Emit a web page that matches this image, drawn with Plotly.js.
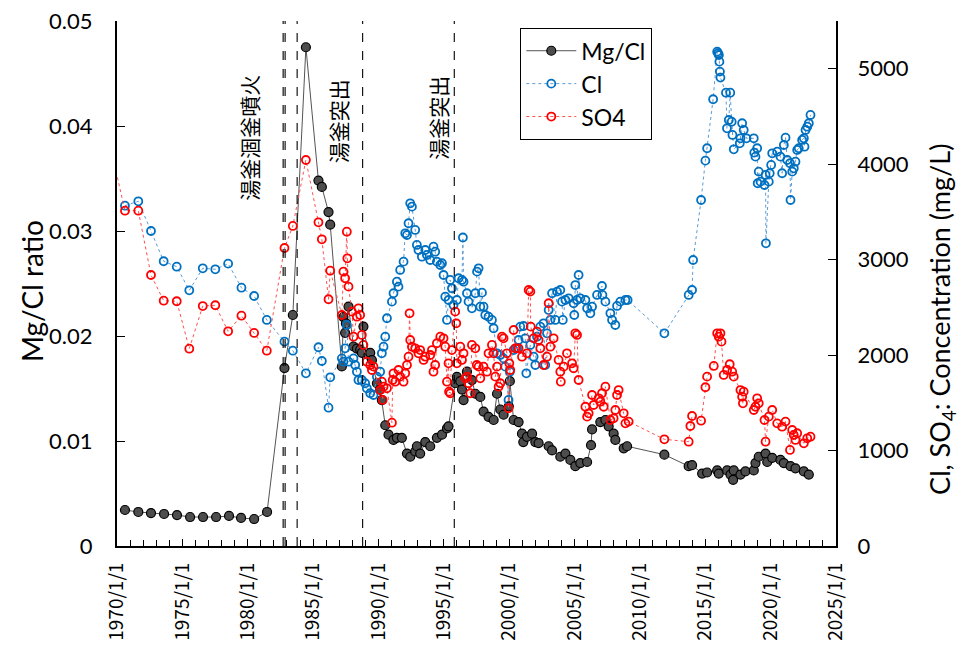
<!DOCTYPE html>
<html>
<head>
<meta charset="utf-8">
<script src="https://cdn.plot.ly/plotly-3.0.1.min.js"></script>
<style>html,body{margin:0;padding:0;background:#fff;}#chart{width:961px;height:647px;}</style>
</head>
<body>
<div id="chart"></div>
<script>
// ---- Data (decimal year, value) ----
const mgclYear = [1970.61,1971.63,1972.60,1973.60,1974.59,1975.59,1976.58,1977.58,1978.57,1979.49,1980.49,1981.48,
1982.81,1983.45,1984.45,1985.41,1985.67,1986.18,1986.31,1987.20,1987.32,1987.45,1987.51,1987.71,1988.09,1988.35,1988.60,
1988.73,1988.85,1989.24,1989.37,1989.50,1989.88,1990.13,1990.26,1990.52,1990.77,1991.15,1991.41,1991.79,1992.18,1992.43,
1992.81,1992.94,1993.19,1993.58,1993.96,1994.47,1994.86,1995.24,1995.36,1995.87,1996.00,1996.26,1996.39,1996.51,1996.77,
1997.15,1997.41,1997.79,1998.04,1998.42,1998.81,1999.07,1999.32,1999.57,1999.97,2000.05,2000.34,2000.72,2000.98,2001.08,
2001.36,2001.75,2002.00,2002.25,2003.02,2003.28,2003.91,2004.30,2004.68,2005.06,2005.44,2005.96,2006.26,2006.34,2006.97,
2007.36,2007.61,2007.99,2008.12,2008.76,2009.02,2011.87,2013.73,2013.99,2014.76,2015.14,2015.91,2016.03,2016.67,2016.93,
2017.13,2017.18,2017.69,2018.07,2018.71,2018.84,2019.09,2019.61,2019.74,2020.12,2020.75,2021.01,2021.52,2021.90,2022.54,2022.92];
const mgclValue = [0.00343,0.00324,0.00314,0.00305,0.00295,0.00276,0.00276,0.00276,0.00286,0.00267,0.00257,0.00324,
0.01695,0.0220,0.0475,0.0348,0.0342,0.0318,0.0306,0.0171,0.0218,0.0203,0.0212,0.0228,0.0190,0.0188,0.0187,
0.0184,0.0209,0.0182,0.0184,0.0177,0.0155,0.0149,0.0139,0.0115,0.0106,0.0101,0.0103,0.0103,0.0088,0.0085,
0.0090,0.0095,0.0088,0.0099,0.0095,0.0103,0.0106,0.0112,0.0114,0.0155,0.0161,0.0157,0.0149,0.0139,0.0166,
0.0158,0.0145,0.0142,0.0128,0.0123,0.0120,0.0145,0.0130,0.0125,0.0133,0.0157,0.0120,0.0118,0.0107,0.0099,
0.0104,0.0107,0.0099,0.0098,0.0095,0.0091,0.0085,0.0088,0.0082,0.0076,0.0079,0.0080,0.0096,0.0111,0.0118,
0.0120,0.0114,0.0107,0.0101,0.0093,0.0095,0.0087,0.0076,0.0077,0.0069,0.0070,0.0072,0.0069,0.0072,0.0068,
0.0063,0.0072,0.0068,0.0071,0.0072,0.0079,0.0085,0.0088,0.0080,0.0084,0.0082,0.0079,0.0076,0.0074,0.0071,0.0068];

const clYear = [1970.61,1971.63,1972.60,1973.57,1974.57,1975.53,1976.56,1977.52,1978.50,1979.52,1980.49,1981.46,
1982.81,1983.45,1984.45,1985.41,1985.67,1986.18,1986.31,1987.20,1987.32,1987.45,1987.58,1987.71,1988.09,1988.22,1988.35,
1988.47,1988.73,1988.98,1989.11,1989.37,1989.62,1989.88,1990.13,1990.26,1990.39,1990.52,1990.65,1991.03,1991.15,1991.41,
1991.53,1991.66,1991.92,1992.05,1992.18,1992.30,1992.43,1992.56,1992.81,1992.94,1993.06,1993.32,1993.58,1993.71,1993.96,
1994.21,1994.34,1994.47,1994.73,1994.86,1994.98,1995.11,1995.24,1995.36,1995.49,1995.62,1995.74,1996.00,1996.13,1996.39,
1996.46,1996.51,1996.77,1996.89,1997.15,1997.41,1997.54,1997.66,1997.79,1997.92,1998.04,1998.17,1998.42,1998.68,1998.81,
1999.07,1999.32,1999.57,1999.70,1999.95,2000.05,2000.34,2000.60,2000.72,2000.85,2001.10,2001.23,2001.31,2001.62,2001.87,
2002.00,2002.13,2002.38,2002.63,2002.76,2002.89,2003.02,2003.15,2003.28,2003.53,2003.66,2003.91,2004.04,2004.10,2004.30,
2004.55,2004.93,2004.98,2005.06,2005.19,2005.31,2005.44,2005.83,2005.96,2006.21,2006.34,2006.72,2007.10,2007.13,2007.36,
2007.74,2007.87,2008.12,2008.25,2008.50,2008.89,2009.06,2011.87,2013.73,2013.99,2014.07,2014.68,2015.01,2015.14,2015.60,
2015.91,2015.98,2016.04,2016.08,2016.12,2016.16,2016.58,2016.66,2016.80,2016.91,2017.02,2017.08,2017.18,2017.64,2017.69,
2017.82,2017.94,2018.15,2018.71,2018.75,2018.84,2018.97,2019.01,2019.09,2019.22,2019.53,2019.61,2019.64,2019.86,2019.93,
2020.04,2020.12,2020.50,2020.75,2020.88,2021.01,2021.14,2021.27,2021.48,2021.52,2021.65,2021.77,2021.90,2022.03,2022.15,
2022.41,2022.54,2022.59,2022.67,2022.80,2022.92,2023.05];
const clValue = [3565,3611,3300,2983,2926,2679,2909,2899,2958,2706,2619,2368,
2141,2046,1809,2082,1938,1449,1767,1966,1931,2071,2315,1931,1966,1896,1826,
1739,1739,1705,1652,1600,1582,1774,1826,2019,2088,2193,2386,2560,2648,2769,
2717,2892,2979,3276,3258,3381,3590,3555,3311,3154,3101,3031,3101,3049,2996,
3136,3083,2979,2944,2962,2839,2612,2368,2577,2787,2700,2525,2577,2805,2787,
3232,2769,2648,2560,2490,2648,2874,2909,2507,2654,2507,2420,2402,2368,2281,
2019,2001,1966,1879,1530,1826,2053,2071,2158,2298,2305,2176,1809,2106,1983,
1896,2193,2298,2333,1896,2228,2473,2368,2648,2368,2665,2682,2560,2368,2577,
2595,2543,2420,2734,2577,2839,2595,2577,2490,2438,2507,2630,2724,2630,2560,
2438,2368,2315,2515,2560,2577,2577,2228,2630,2682,2996,3625,4037,4167,4680,
5179,5162,5144,5074,4970,4907,4749,4376,4463,4749,4445,4306,4156,4219,4271,
4429,4358,4271,4271,4121,4079,4167,3800,3922,3817,3782,3887,3171,3817,3905,
3992,4114,4131,4079,3905,4201,4278,4044,4010,3625,3922,3957,4026,4149,4167,
4254,4271,4183,4358,4393,4429,4516];

const so4Year = [1969.62,1970.61,1971.63,1972.60,1973.57,1974.57,1975.53,1976.56,1977.52,1978.50,1979.52,1980.49,1981.46,
1982.81,1983.45,1984.45,1985.41,1985.67,1986.18,1986.31,1987.20,1987.32,1987.45,1987.58,1987.62,1987.71,1987.97,1988.09,
1988.35,1988.47,1988.60,1988.73,1988.85,1989.11,1989.37,1989.50,1989.62,1990.13,1990.26,1990.32,1990.39,1990.65,1991.03,
1991.09,1991.15,1991.28,1991.53,1991.66,1991.92,1992.05,1992.18,1992.30,1992.38,1992.43,1992.56,1992.81,1993.06,1993.19,
1993.45,1993.58,1993.96,1994.09,1994.21,1994.34,1994.47,1994.73,1994.98,1995.11,1995.24,1995.36,1995.40,1995.49,1995.62,
1995.87,1995.95,1996.00,1996.26,1996.39,1996.51,1996.64,1996.77,1996.89,1997.02,1997.15,1997.41,1997.52,1997.66,1997.79,
1998.04,1998.30,1998.42,1998.68,1998.81,1998.94,1999.07,1999.19,1999.32,1999.45,1999.57,1999.83,1999.95,2000.01,2000.08,
2000.34,2000.47,2000.72,2000.98,2001.36,2001.49,2001.62,2001.65,2001.87,2002.13,2002.25,2002.38,2002.63,2002.89,2003.02,
2003.15,2003.40,2003.78,2003.91,2003.95,2004.17,2004.42,2004.81,2004.93,2005.06,2005.19,2005.31,2005.83,2005.96,2006.08,
2006.34,2006.46,2006.84,2006.97,2007.10,2007.23,2007.36,2007.74,2007.99,2008.12,2008.25,2008.37,2008.76,2008.89,2009.14,
2011.87,2013.73,2013.86,2013.99,2014.68,2015.01,2015.14,2015.65,2015.91,2016.03,2016.16,2016.24,2016.41,2016.67,2016.87,
2017.06,2017.18,2017.69,2017.82,2017.88,2017.94,2018.71,2018.84,2018.97,2019.09,2019.53,2019.61,2019.86,2020.12,2020.50,
2020.88,2021.14,2021.48,2021.65,2021.77,2021.90,2022.03,2022.54,2022.80,2023.05];
const so4Value = [4107,3513,3513,2839,2570,2564,2067,2514,2522,2249,2413,2232,2046,
3122,3353,4044,3391,3213,2585,2884,2420,2874,2805,3293,3014,2717,2455,2193,
2402,2490,2420,2211,2106,1931,1896,1844,1879,1634,1721,1530,1669,1652,1292,
1739,1809,1721,1844,1774,1721,1809,1896,1983,2438,2158,2088,2071,2019,2053,
1949,1983,2001,2053,1826,1896,2124,2193,2176,2088,1721,1914,1617,1600,2053,
2455,2333,1914,2088,1949,2019,1757,1774,1705,1600,2106,2071,1896,1879,1757,
1879,1826,2019,2106,2019,1774,1879,1669,1705,2193,2176,2019,1443,1914,1844,
2263,2071,2071,1983,2019,2682,2665,2298,2176,2245,2158,2071,1896,1983,2543,
2088,2176,1949,1826,1721,1879,2019,1914,1862,2228,2211,1739,1459,1355,1390,
1582,1477,1547,1512,1600,1459,1669,1320,1338,1425,1582,1634,1390,1285,1303,
1118,1093,1257,1362,1313,1663,1774,1886,2228,2193,2228,2141,1792,1844,1904,
1826,1774,1634,1564,1495,1617,1425,1459,1547,1495,1320,1093,1355,1425,1285,
1250,1303,1006,1215,1163,1111,1181,1076,1128,1145];

const eventYears = [1982.71, 1982.86, 1983.78, 1988.79, 1995.80];
const tickYears = [1970,1975,1980,1985,1990,1995,2000,2005,2010,2015,2020,2025];
const tickLabels = ['1970/1/1','1975/1/1','1980/1/1','1985/1/1','1990/1/1','1995/1/1','2000/1/1','2005/1/1','2010/1/1','2015/1/1','2020/1/1','2025/1/1'];
const seriesNames = ['Mg/Cl','Cl','SO4'];
const eventLabels = [
  {text:'湯釜涸釜噴火', year:1980.03, pos:0.778},
  {text:'湯釜突出', year:1986.92, pos:0.8095},
  {text:'湯釜突出', year:1994.60, pos:0.815}
];

const baseFont = 'Lato, "Noto Sans", "Liberation Sans", sans-serif';
const cjkFont = '"Noto Sans CJK JP", "Noto Sans", sans-serif';

const traces = [
  {x: mgclYear, y: mgclValue, name: seriesNames[0], type:'scatter', mode:'lines+markers', yaxis:'y',
   line:{color:'#404040', width:0.9},
   marker:{symbol:'circle', size:9, color:'#4d4d4d', line:{color:'#000', width:1.2}}},
  {x: clYear, y: clValue, name: seriesNames[1], type:'scatter', mode:'lines+markers', yaxis:'y2',
   line:{color:'#5B9BD5', width:1, dash:'dot'},
   marker:{symbol:'circle-open', size:8, color:'#0070C0', line:{width:1.8}}},
  {x: so4Year, y: so4Value, name: seriesNames[2], type:'scatter', mode:'lines+markers', yaxis:'y2',
   line:{color:'#FF5050', width:1, dash:'dot'},
   marker:{symbol:'circle-open', size:8, color:'#FF0000', line:{width:1.8}}}
];

const shapes = eventYears.map(yr => ({type:'line', xref:'x', yref:'paper', x0:yr, x1:yr, y0:0, y1:1,
  line:{color:'#000', width:1.1, dash:'dash'}}));

const annotations = eventLabels.map(e => ({xref:'x', yref:'paper', x:e.year, y:e.pos, text:e.text,
  textangle:-90, showarrow:false, xanchor:'center', yanchor:'middle', font:{family:cjkFont, size:21, color:'#000'}}));
annotations.push({xref:'paper', yref:'paper', x:-0.118, y:0.486, text:'Mg/Cl ratio', textangle:-90, showarrow:false,
  xanchor:'center', yanchor:'middle', font:{family:baseFont, size:28, color:'#000'}});
annotations.push({xref:'paper', yref:'paper', x:1.147, y:0.432, text:'Cl, SO<sub>4</sub>: Concentration (mg/L)', textangle:-90, showarrow:false,
  xanchor:'center', yanchor:'middle', font:{family:baseFont, size:27, color:'#000'}});

const layout = {
  width:961, height:647,
  margin:{l:117, r:125, t:21, b:101},
  paper_bgcolor:'#fff', plot_bgcolor:'#fff',
  font:{family:baseFont, color:'#000'},
  showlegend:true,
  legend:{x:0.5605, y:0.9867, xanchor:'left', yanchor:'top', bordercolor:'#000', borderwidth:1.3, bgcolor:'#fff',
    font:{family:baseFont, size:23, color:'#000'}, tracegroupgap:0, itemwidth:50},
  xaxis:{range:[1970,2025], tickmode:'array', tickvals:tickYears, ticktext:tickLabels, tickangle:-90,
    ticks:'inside', ticklen:7, tickwidth:1.3, tickcolor:'#000', showline:true, linecolor:'#000', linewidth:2,
    showgrid:false, zeroline:false, ticklabelstandoff:7, tickfont:{family:cjkFont, size:19, color:'#000'},
    minor:{tickmode:'linear', tick0:1970, dtick:1, ticks:'inside', ticklen:6, tickwidth:1.2, tickcolor:'#000', showgrid:false}},
  yaxis:{range:[0,0.05], dtick:0.01, ticks:'inside', ticklen:8, tickwidth:1.3, tickcolor:'#000', showline:true,
    linecolor:'#000', linewidth:2, showgrid:false, zeroline:false, ticklabelstandoff:18, tickfont:{family:baseFont, size:22, color:'#000'}},
  yaxis2:{range:[0,5500], dtick:1000, overlaying:'y', side:'right', ticks:'inside', ticklen:8, tickwidth:1.3, tickcolor:'#000',
    showline:true, linecolor:'#000', linewidth:2, showgrid:false, zeroline:false, ticklabelstandoff:15, tickfont:{family:baseFont, size:22, color:'#000'}},
  shapes: shapes,
  annotations: annotations
};

Plotly.newPlot('chart', traces, layout, {displayModeBar:false, responsive:false});
</script>
</body>
</html>
